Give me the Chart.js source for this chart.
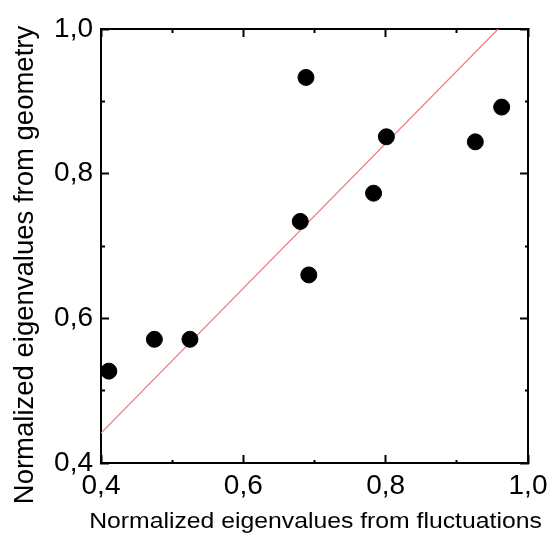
<!DOCTYPE html>
<html>
<head>
<meta charset="utf-8">
<script src="https://cdn.jsdelivr.net/npm/chart.js@4/dist/chart.umd.min.js"></script>
<style>
    html, body { margin: 0; padding: 0; background: #ffffff; }
    canvas { display: block; }
</style>
</head>
<body>
<canvas id="eigenChart" width="552" height="535"></canvas>
<script>
// Data
const fluctuationValues = [0.411, 0.475, 0.525, 0.680, 0.688, 0.692, 0.783, 0.801, 0.926, 0.963];
const geometryValues    = [0.527, 0.571, 0.571, 0.734, 0.933, 0.660, 0.773, 0.851, 0.844, 0.892];

// Fit line end points
const fitX = [0.4, 0.958];
const fitY = [0.4415, 1.0];

const axisMin = 0.4;
const axisMax = 1.0;
const tickStep = 0.1;

const xTitle = 'Normalized eigenvalues from fluctuations';
const yTitle = 'Normalized eigenvalues from geometry';

Chart.defaults.font.family = "'Liberation Sans', Arial, sans-serif";
Chart.defaults.color = '#000000';

function isMajor(value) {
    return Math.round(value * 10) % 2 === 0;
}

function tickLabel(value) {
    return isMajor(value) ? value.toFixed(1).replace('.', ',') : '';
}

// minor ticks are half length; dash pattern depends on which end the line starts
function dashFor(startsAtBorder) {
    return function(ctx) {
        if (!ctx.tick || isMajor(ctx.tick.value)) return [];
        return startsAtBorder ? [4, 100] : [0, 4, 6, 100];
    };
}

function axisGrid(startsAtBorder) {
    return {
        drawOnChartArea: false,
        drawTicks: true,
        tickLength: -8,
        tickColor: '#000000',
        tickWidth: 2,
        tickBorderDash: dashFor(startsAtBorder)
    };
}

const axisBorder = { display: true, color: '#000000', width: 2 };

// fixed box sizes, and no extra room for the end labels
function fixSize(prop, size) {
    return function(scale) {
        scale[prop] = size;
        scale.paddingLeft = 0;
        scale.paddingRight = 0;
        scale.paddingTop = 0;
        scale.paddingBottom = 0;
    };
}

// Axis titles drawn by hand so they can sit where the reference puts them
const axisTitles = {
    id: 'axisTitles',
    afterDraw(chart) {
        const ctx = chart.ctx;
        const area = chart.chartArea;
        ctx.save();
        ctx.fillStyle = '#000000';
        ctx.textAlign = 'center';
        ctx.textBaseline = 'alphabetic';
        ctx.font = "22px 'Liberation Sans', Arial, sans-serif";
        ctx.translate((area.left + area.right) / 2 + 1, 528);
        ctx.scale(1.125, 1);
        ctx.fillText(xTitle, 0, 0);
        ctx.restore();

        ctx.save();
        ctx.fillStyle = '#000000';
        ctx.textAlign = 'center';
        ctx.textBaseline = 'alphabetic';
        ctx.font = "27.5px 'Liberation Sans', Arial, sans-serif";
        ctx.translate(33, 265);
        ctx.rotate(-Math.PI / 2);
        ctx.fillText(yTitle, 0, 0);
        ctx.restore();
    }
};

const points = fluctuationValues.map((x, i) => ({ x: x, y: geometryValues[i] }));
const fitLine = fitX.map((x, i) => ({ x: x, y: fitY[i] }));

const ctx = document.getElementById('eigenChart').getContext('2d');
const eigenChart = new Chart(ctx, {
    type: 'scatter',
    data: {
        datasets: [
            {
                label: 'fit',
                data: fitLine,
                showLine: true,
                borderColor: '#f07878',
                borderWidth: 1.2,
                pointRadius: 0,
                order: 2
            },
            {
                label: 'eigenvalues',
                data: points,
                backgroundColor: '#000000',
                borderColor: '#000000',
                pointRadius: 8,
                pointHoverRadius: 8,
                clip: false,
                order: 1
            }
        ]
    },
    options: {
        responsive: false,
        animation: false,
        layout: { padding: 0, autoPadding: false },
        plugins: {
            legend: { display: false },
            tooltip: { enabled: false }
        },
        scales: {
            x: {
                type: 'linear',
                position: 'bottom',
                min: axisMin,
                max: axisMax,
                afterFit: fixSize('height', 72),
                border: axisBorder,
                grid: axisGrid(true),
                ticks: {
                    stepSize: tickStep,
                    autoSkip: false,
                    maxRotation: 0,
                    padding: 14,
                    font: { size: 28 },
                    callback: tickLabel
                }
            },
            y: {
                type: 'linear',
                position: 'left',
                min: axisMin,
                max: axisMax,
                afterFit: fixSize('width', 101),
                border: axisBorder,
                grid: axisGrid(false),
                ticks: {
                    stepSize: tickStep,
                    autoSkip: false,
                    padding: 16,
                    font: { size: 28 },
                    callback: tickLabel
                }
            },
            x2: {
                type: 'linear',
                position: 'top',
                min: axisMin,
                max: axisMax,
                afterFit: fixSize('height', 29),
                border: axisBorder,
                grid: axisGrid(false),
                ticks: { display: false, stepSize: tickStep, autoSkip: false }
            },
            y2: {
                type: 'linear',
                position: 'right',
                min: axisMin,
                max: axisMax,
                afterFit: fixSize('width', 24),
                border: axisBorder,
                grid: axisGrid(true),
                ticks: { display: false, stepSize: tickStep, autoSkip: false }
            }
        }
    },
    plugins: [axisTitles]
});
</script>
</body>
</html>
